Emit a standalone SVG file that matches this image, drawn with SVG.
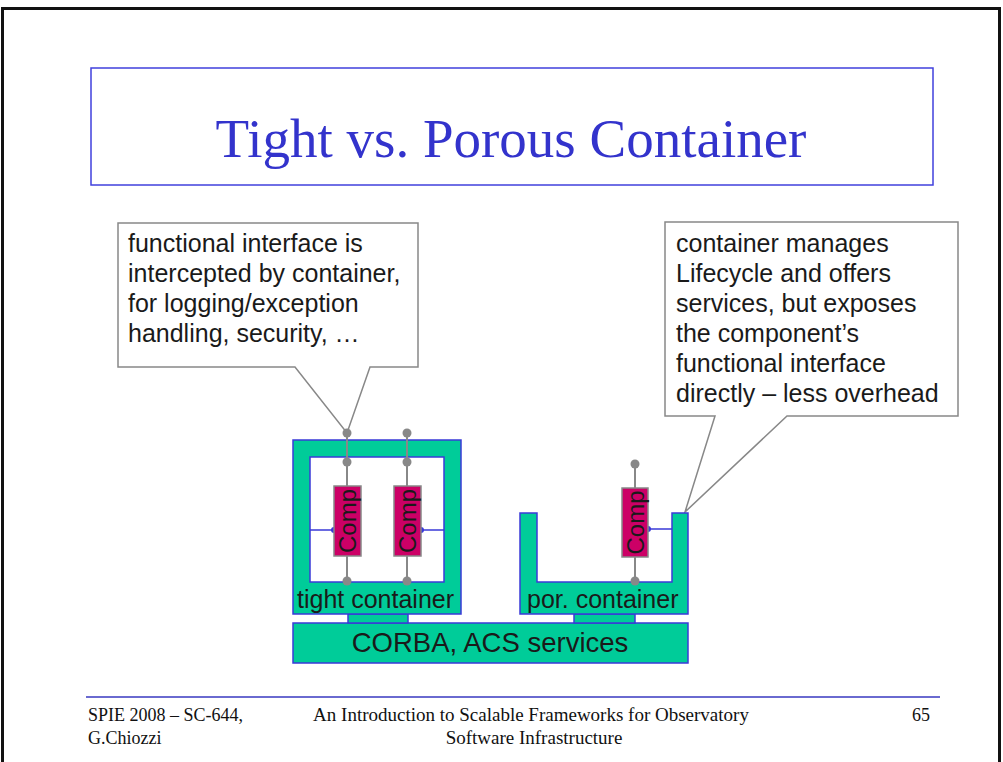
<svg xmlns="http://www.w3.org/2000/svg" width="1003" height="762" viewBox="0 0 1003 762">
<style>
.sans{font-family:"Liberation Sans",Arial,sans-serif;fill:#1a1a1a}
.serif{font-family:"Liberation Serif","Times New Roman",serif}
.teal{fill:#00cc99;stroke:#3a3ad8;stroke-width:1.5}
.comp{fill:#cc0066;stroke:#888;stroke-width:1.5}
.gl{stroke:#888;stroke-width:2;fill:none}
.gd{fill:#888}
.bl{stroke:#3a3ad8;stroke-width:1.5;fill:none}
.bd{fill:#3a3ad8}
.call{fill:#fff;stroke:#888;stroke-width:1.5}
.ct{font-size:25px}
.cmp{font-size:24px}
.foot{font-size:18px;fill:#111}
.footc{font-size:19px;fill:#111}
</style>
<rect x="0" y="0" width="1003" height="762" fill="#fff"/>
<rect x="2.5" y="8.5" width="997" height="770" fill="none" stroke="#111" stroke-width="3"/>
<g id="title">
<rect x="91" y="68" width="842" height="117" fill="#fff" stroke="#4040dd" stroke-width="1.5"/>
<text class="serif" x="511" y="157" font-size="55" fill="#3333cc" text-anchor="middle">Tight vs. Porous Container</text>
</g>
<g id="callout-tight">
<path class="call" d="M118,223 H418 V367 H370 L347,433 L295,367 H118 Z"/>
<text class="sans ct" x="128" y="252">functional interface is</text>
<text class="sans ct" x="128" y="282">intercepted by container,</text>
<text class="sans ct" x="128" y="312">for logging/exception</text>
<text class="sans ct" x="128" y="342">handling, security, …</text>
</g>
<g id="callout-porous">
<path class="call" d="M665,222 H958 V416 H787 L685,512 L715,416 H665 Z"/>
<text class="sans ct" x="676" y="252">container manages</text>
<text class="sans ct" x="676" y="282">Lifecycle and offers</text>
<text class="sans ct" x="676" y="312">services, but exposes</text>
<text class="sans ct" x="676" y="342">the component’s</text>
<text class="sans ct" x="676" y="372">functional interface</text>
<text class="sans ct" x="676" y="402">directly – less overhead</text>
</g>
<g id="corba">
<rect class="teal" x="293" y="623" width="395" height="40"/>
<text class="sans" x="490" y="652" font-size="27.5" text-anchor="middle">CORBA, ACS services</text>
</g>
<g id="tight-container">
<rect class="teal" x="348" y="614" width="60" height="9"/>
<path class="teal" fill-rule="evenodd" d="M293,440 H461 V614 H293 Z M310,457 V582 H444 V457 Z"/>
<text class="sans" x="297" y="608" font-size="25">tight container</text>
</g>
<g id="porous-container">
<rect class="teal" x="574" y="614" width="61" height="9"/>
<path class="teal" d="M520,513 H537 V582 H672 V513 H688 V614 H520 Z"/>
<text class="sans" x="527" y="608" font-size="25">por. container</text>
</g>
<g id="connectors">
<path class="gl" d="M347,433 V486 M347,556 V581 M407,433 V486 M407,556 V581 M635,464 V488 M635,557 V581"/>
<circle class="gd" cx="347" cy="433" r="4.5"/>
<circle class="gd" cx="347" cy="462" r="4.5"/>
<circle class="gd" cx="347" cy="581" r="4.5"/>
<circle class="gd" cx="407" cy="433" r="4.5"/>
<circle class="gd" cx="407" cy="462" r="4.5"/>
<circle class="gd" cx="407" cy="581" r="4.5"/>
<circle class="gd" cx="635" cy="464" r="4.5"/>
<circle class="gd" cx="635" cy="581" r="4.5"/>
<path class="bl" d="M310,530 H334 M421,530 H444 M648,529 H672"/>
<circle class="bd" cx="334" cy="530" r="3"/>
<circle class="bd" cx="421" cy="530" r="3"/>
<circle class="bd" cx="648" cy="529" r="3"/>
</g>
<g id="comp1">
<rect class="comp" x="334" y="486" width="27" height="70"/>
<text class="sans cmp" transform="translate(356,521) rotate(-90)" text-anchor="middle">Comp</text>
</g>
<g id="comp2">
<rect class="comp" x="394" y="486" width="27" height="70"/>
<text class="sans cmp" transform="translate(416,521) rotate(-90)" text-anchor="middle">Comp</text>
</g>
<g id="comp3">
<rect class="comp" x="622" y="488" width="26" height="69"/>
<text class="sans cmp" transform="translate(643.5,522.5) rotate(-90)" text-anchor="middle">Comp</text>
</g>
<g id="footer">
<line x1="86" y1="697" x2="940" y2="697" stroke="#6a6ad0" stroke-width="2"/>
<text class="serif foot" x="88" y="721">SPIE 2008 – SC-644,</text>
<text class="serif foot" x="88" y="744">G.Chiozzi</text>
<text class="serif footc" x="531" y="721" text-anchor="middle">An Introduction to Scalable Frameworks for Observatory</text>
<text class="serif footc" x="534" y="744" text-anchor="middle">Software Infrastructure</text>
<text class="serif foot" x="930" y="721" text-anchor="end">65</text>
</g>
</svg>
